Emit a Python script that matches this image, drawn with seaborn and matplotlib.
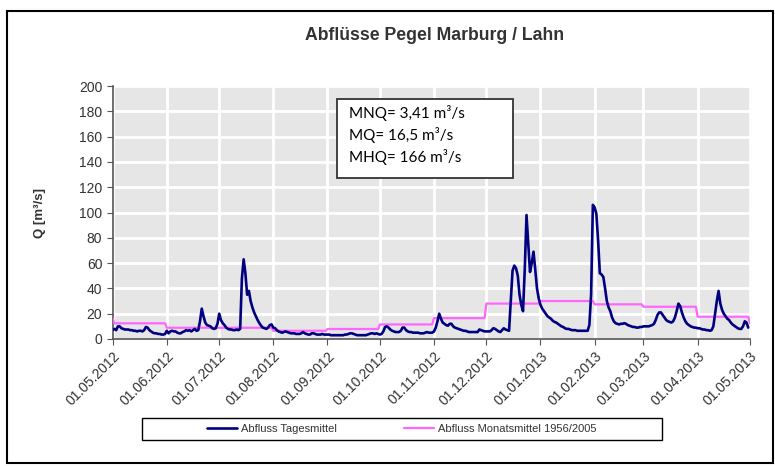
import numpy as np
import pandas as pd
import matplotlib.pyplot as plt
import matplotlib.dates as mdates
from matplotlib.patches import Rectangle
import seaborn as sns

# Tagesmittel Abfluss [m3/s], 01.05.2012 - 30.04.2013
mai_12 = [7, 8, 7, 10, 10, 8.5, 8, 7.5, 7.5, 7.5, 7, 7, 6.5, 6.5, 6, 6.5, 6.5, 6, 7, 9.5,
          9, 7, 6, 5, 4.5, 4.5, 4, 4, 3.5, 3.5, 4]
jun_12 = [6.5, 4.5, 6, 6.5, 6, 6, 5, 4.5, 4.5, 5.5, 6, 7, 6.5, 7, 6, 7, 8, 6.5, 7, 14,
          24, 18, 13, 11, 10.5, 10, 8.5, 8, 8.5, 12]
jul_12 = [20, 15, 12.5, 11, 9, 8, 7.5, 7.5, 7, 7, 7.5, 7, 8, 48, 63, 52, 35, 38, 30, 25,
          21, 18, 15, 12.5, 10.5, 9, 8.5, 8, 9, 11, 11.5]
aug_12 = [9, 8.5, 7, 6, 5.5, 5, 5.5, 6, 5.5, 5, 4.5, 4.5, 4.5, 4, 4, 4, 4.5, 5.5, 4.5, 4,
          3.5, 3.5, 4.5, 4.5, 4, 3.5, 3.5, 3.5, 4, 3.5, 3.5]
sep_12 = [3.5, 3.5, 3, 3, 3, 3, 3, 3, 3, 3, 3.5, 3.5, 4, 4.5, 4.5, 4, 3.5, 3, 3, 3,
          3, 3, 3, 3.5, 4, 4.5, 4.5, 4, 4.5, 4]
okt_12 = [3.5, 4, 6, 9.5, 10, 9, 7.5, 6.5, 6, 5.5, 5.5, 5.5, 6.5, 9, 9, 7, 6, 5.5, 5.5, 5,
          5, 5, 5, 4.5, 4.5, 4.5, 5, 5.5, 5, 5, 5]
nov_12 = [6, 9, 14, 20, 16, 13, 12, 11, 10.5, 12, 12, 10, 9, 8.5, 8, 7.5, 7, 6.5, 6.5, 6,
          5.5, 5.5, 5.5, 5.5, 5.5, 5.5, 7.5, 7, 6.5, 6]
dez_12 = [6, 6, 6, 7, 8.5, 8, 7, 6, 5.5, 7, 8.5, 7.5, 7, 6.5, 30, 54, 58, 56, 50, 35,
          27, 22, 55, 98, 75, 53, 60, 69, 55, 40, 32]
jan_13 = [27, 24, 22, 20, 18, 17, 16, 14.5, 13.5, 13, 12, 11, 10, 9.5, 8.5, 8, 8, 7.5, 7, 7,
          7, 6.5, 6.5, 6.5, 6.5, 6.5, 6.5, 6.5, 11, 35, 106]
feb_13 = [104, 99, 78, 52, 51, 49, 40, 30, 25, 22, 17, 14, 12.5, 12, 11.5, 12, 12, 12.5, 12, 11,
          10.5, 10, 9.5, 9.5, 9, 9, 9.5, 9.5]
mar_13 = [10, 10, 10, 10, 10.5, 11, 12, 15, 19, 21, 21, 19, 17, 15, 14, 13.5, 13, 14, 17, 22,
          28, 26, 21, 17, 14, 12, 11, 10, 9.5, 9, 9]
apr_13 = [8.5, 8.5, 8, 7.5, 7.5, 7, 7, 6.5, 7, 10, 20, 30, 38, 28, 23, 20, 18, 16, 15, 13,
          11.5, 10.5, 9.5, 8.5, 8, 8, 10, 14, 13, 9]

# Monatsmittel 1956/2005, Mai .. April, plus first and last point of the step line
monatsmittel = [12.4, 8.9, 8.9, 6.5, 7.9, 11.5, 16.5, 28, 30, 27.4, 25.5, 17.6]
mm_erster_tag = 16
mm_letzter_tag = 12.4

monate = [mai_12, jun_12, jul_12, aug_12, sep_12, okt_12,
          nov_12, dez_12, jan_13, feb_13, mar_13, apr_13]
tages = np.concatenate(monate)
tage = pd.date_range('2012-05-01', periods=len(tages), freq='D')

mm = np.repeat(monatsmittel, [len(m) for m in monate])
mm[0] = mm_erster_tag
mm = np.append(mm, mm_letzter_tag)
tage_mm = pd.date_range('2012-05-01', periods=len(mm), freq='D')

df_tag = pd.DataFrame({'datum': tage, 'q': tages})
df_mon = pd.DataFrame({'datum': tage_mm, 'q': mm})

sns.set_style('white', {'axes.facecolor': '#e6e6e6'})
plt.rcParams['font.family'] = ['Liberation Sans', 'DejaVu Sans']

fig = plt.figure(figsize=(7.75, 4.66), dpi=100)
ax = fig.add_axes([112.7 / 775, 1 - 339 / 466, (750 - 112.7) / 775, (339 - 86) / 466])

sns.lineplot(data=df_mon, x='datum', y='q', ax=ax, color='#ff66ff', lw=1.6,
             label='Abfluss Monatsmittel 1956/2005', zorder=3)
sns.lineplot(data=df_tag, x='datum', y='q', ax=ax, color='#000080', lw=1.9,
             label='Abfluss Tagesmittel', zorder=4)

ax.set_ylim(0, 200)
ax.set_yticks(range(0, 201, 20))
ax.set_xlim(pd.Timestamp('2012-05-01'), pd.Timestamp('2013-05-01'))
ax.set_xticks(pd.date_range('2012-05-01', '2013-05-01', freq='MS'))
ax.xaxis.set_major_formatter(mdates.DateFormatter('%d.%m.%Y'))
ax.grid(True, color='white', lw=2)
ax.set_axisbelow(True)

for s in ['top', 'right']:
    ax.spines[s].set_visible(False)
for s in ['left', 'bottom']:
    ax.spines[s].set_color('#555555')
    ax.spines[s].set_linewidth(1.2)

ax.tick_params(axis='both', colors='#555555', labelcolor='#333333', labelsize=10,
               length=4, direction='out', bottom=True, left=True)
plt.setp(ax.get_xticklabels(), rotation=45, ha='right', rotation_mode='anchor')

ax.set_xlabel('')
ax.set_ylabel('Q [m³/s]', fontsize=9.5, fontweight='bold', color='#333333', labelpad=24)

fig.text(435 / 775, 1 - 36 / 466, 'Abflüsse Pegel Marburg / Lahn', ha='center', va='center',
         fontsize=12.7, fontweight='bold', color='#333333')

# Kennwerte box
fig.patches.append(Rectangle((337 / 775, 1 - 178 / 466), 176 / 775, 79 / 466,
                             transform=fig.transFigure, facecolor='white',
                             edgecolor='#333333', lw=1.3, zorder=5))
kennwerte = ['MNQ= 3,41 m³/s', 'MQ= 16,5 m³/s', 'MHQ= 166 m³/s']
for i, t in enumerate(kennwerte):
    fig.text(349 / 775, 1 - (113 + 22 * i) / 466, t, ha='left', va='center',
             fontsize=11, family=['Lato', 'DejaVu Sans'], color='black', zorder=6)

# Legend with its own frame
ax.get_legend().remove()
h, l = ax.get_legend_handles_labels()
fig.patches.append(Rectangle((142 / 775, 1 - 440 / 466), 520 / 775, 22 / 466,
                             transform=fig.transFigure, facecolor='white',
                             edgecolor='black', lw=1))
fig.legend(h[::-1], l[::-1], ncol=2, loc='center',
           bbox_to_anchor=(402 / 775, 1 - 429 / 466),
           fontsize=8, frameon=False, handlelength=2.7, handletextpad=0.4,
           columnspacing=6, labelcolor='#333333')

# outer frame
fig.patches.append(Rectangle((7 / 775, 3 / 466), 766 / 775, 452 / 466,
                             transform=fig.transFigure, fill=False,
                             edgecolor='black', lw=1.5))

fig.savefig('out.png', dpi=100)
